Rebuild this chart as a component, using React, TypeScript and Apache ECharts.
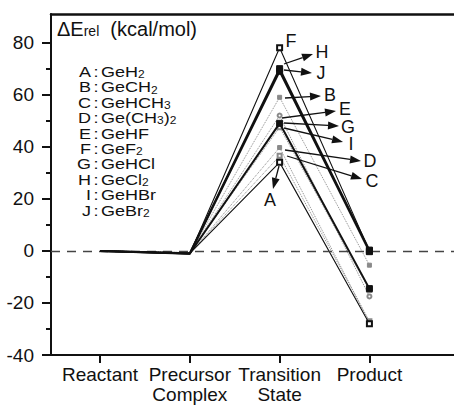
import React, { useEffect, useRef } from "react";
import * as echarts from "echarts";

const categories = ["Reactant", "Precursor\nComplex", "Transition\nState", "Product"];
const stageX = [0, 1, 2, 3];
const yTicks = [-40, -20, 0, 20, 40, 60, 80];
const yMinorTicks = [-30, -10, 10, 30, 50, 70];

const letters = ["A", "B", "C", "D", "E", "F", "G", "H", "I", "J"];
const formulas: [string, string][][] = [
  [["GeH", ""], ["2", "s"]],
  [["GeCH", ""], ["2", "s"]],
  [["GeHCH", ""], ["3", "s"]],
  [["Ge(CH", ""], ["3", "s"], [")", ""], ["2", "s"]],
  [["GeHF", ""]],
  [["GeF", ""], ["2", "s"]],
  [["GeHCl", ""]],
  [["GeCl", ""], ["2", "s"]],
  [["GeHBr", ""]],
  [["GeBr", ""], ["2", "s"]],
] as any;

const seriesA = [0, -1.0, 34, -28];
const seriesB = [0, -0.8, 59, -5.5];
const seriesC = [0, -0.9, 36.5, -27];
const seriesD = [0, -1.1, 39.7, -27.5];
const seriesE = [0, -0.7, 52, -17.5];
const seriesF = [0, -1.2, 78, 0];
const seriesG = [0, -1.0, 49, -14.5];
const seriesH = [0, -0.9, 70, 0.3];
const seriesI = [0, -0.8, 47.5, -15];
const seriesJ = [0, -1.1, 69, -0.3];

const FONT = "Liberation Sans, Arial, Helvetica, sans-serif";
const BLACK = "#111";
const GRAY = "#8a8a8a";

type Kind = "thick" | "thin" | "dotted";
const seriesDefs: { name: string; data: number[]; kind: Kind; symbol: string }[] = [
  { name: "A", data: seriesA, kind: "thin", symbol: "emptyRect" },
  { name: "B", data: seriesB, kind: "dotted", symbol: "star" },
  { name: "C", data: seriesC, kind: "dotted", symbol: "emptyRect" },
  { name: "D", data: seriesD, kind: "dotted", symbol: "star" },
  { name: "E", data: seriesE, kind: "dotted", symbol: "emptyCircle" },
  { name: "F", data: seriesF, kind: "thin", symbol: "emptyRect" },
  { name: "G", data: seriesG, kind: "thick", symbol: "rect" },
  { name: "H", data: seriesH, kind: "thick", symbol: "rect" },
  { name: "I", data: seriesI, kind: "dotted", symbol: "emptyRect" },
  { name: "J", data: seriesJ, kind: "thick", symbol: "rect" },
];

function arrow(x1: number, y1: number, x2: number, y2: number) {
  const dx = x2 - x1;
  const dy = y2 - y1;
  const len = Math.sqrt(dx * dx + dy * dy);
  const ux = dx / len;
  const uy = dy / len;
  const hl = 11;
  const hw = 4;
  const bx = x2 - ux * hl;
  const by = y2 - uy * hl;
  return [
    {
      type: "line",
      shape: { x1, y1, x2: bx, y2: by },
      style: { stroke: BLACK, lineWidth: 1.3 },
      z: 100,
    },
    {
      type: "polygon",
      shape: {
        points: [
          [x2, y2],
          [bx - uy * hw, by + ux * hw],
          [bx + uy * hw, by - ux * hw],
        ],
      },
      style: { fill: BLACK },
      z: 100,
    },
  ];
}

export default function App() {
  const ref = useRef<HTMLDivElement>(null);
  useEffect(() => {
    if (!ref.current) return;
    const chart = echarts.init(ref.current, null, { renderer: "svg" });

    const series: any[] = seriesDefs.map((s) => {
      const color = s.kind === "dotted" ? GRAY : BLACK;
      return {
        type: "line",
        name: s.name,
        data: s.data.map((v, i) =>
          i < 2 ? { value: [stageX[i], v], symbol: "none" } : { value: [stageX[i], v] }
        ),
        symbol: s.symbol,
        symbolSize: s.kind === "thick" ? 6 : s.kind === "thin" ? 5 : 4,
        showSymbol: true,
        lineStyle: {
          color,
          width: s.kind === "thick" ? 2 : s.kind === "thin" ? 1.1 : 1,
          type: s.kind === "dotted" ? "dotted" : "solid",
        },
        itemStyle: { color, borderColor: color, borderWidth: 1 },
        z: s.kind === "thick" ? 5 : s.kind === "thin" ? 4 : 3,
      };
    });
    series.push({
      type: "line",
      data: [],
      markLine: {
        silent: true,
        symbol: "none",
        label: { show: false },
        lineStyle: { color: "#444", type: [9, 7], width: 1.4 },
        data: [{ yAxis: 0 }],
      },
    });

    const legendTexts: any[] = [];
    const startY = 72;
    const step = 15.4;
    const SX = 1.2;
    letters.forEach((l, i) => {
      const y = startY + i * step;
      legendTexts.push({
        type: "text",
        x: 91,
        y,
        scaleX: SX,
        style: {
          text: l,
          font: `15px ${FONT}`,
          fill: BLACK,
          align: "right",
          verticalAlign: "middle",
        },
      });
      legendTexts.push({
        type: "text",
        x: 96,
        y,
        scaleX: SX,
        style: {
          text: ":",
          font: `15px ${FONT}`,
          fill: BLACK,
          align: "center",
          verticalAlign: "middle",
        },
      });
      const parts = formulas[i] as any as [string, string][];
      const txt = parts.map(([t, k]) => (k === "s" ? `{s|${t}}` : `{n|${t}}`)).join("");
      legendTexts.push({
        type: "text",
        x: 101,
        y,
        scaleX: SX,
        style: {
          text: txt,
          font: `15px ${FONT}`,
          fill: BLACK,
          align: "left",
          verticalAlign: "middle",
          rich: {
            n: { fontSize: 15, fontFamily: FONT, color: BLACK },
            s: { fontSize: 10, fontFamily: FONT, color: BLACK, padding: [5, 0, 0, 0] },
          },
        },
      });
    });

    const labelPos: [string, number, number][] = [
      ["F", 291, 41],
      ["H", 322, 52],
      ["J", 321, 73],
      ["B", 330, 95],
      ["E", 345, 109],
      ["G", 348, 127],
      ["I", 351, 144],
      ["D", 370, 161],
      ["C", 372, 181],
      ["A", 270, 200],
    ];
    const labelGraphics = labelPos.map(([t, x, y]) => ({
      type: "text",
      x,
      y,
      style: {
        text: t,
        font: `16px ${FONT}`,
        fill: BLACK,
        align: "center",
        verticalAlign: "middle",
      },
      scaleX: 1.12,
      scaleY: 1.12,
      z: 100,
    }));

    const arrows = [
      ...arrow(284, 64, 313, 54),
      ...arrow(284, 70, 312, 73),
      ...arrow(285, 98, 321, 96),
      ...arrow(282, 118, 336, 111),
      ...arrow(284, 123, 339, 126),
      ...arrow(284, 128, 343, 142),
      ...arrow(285, 150, 361, 161),
      ...arrow(287, 156, 362, 179),
      ...arrow(279, 166, 273, 189),
    ];

    chart.setOption({
      animation: false,
      backgroundColor: "#fff",
      grid: { left: 51, right: 0, top: 14, bottom: 56, containLabel: false },
      xAxis: [
        {
          type: "value",
          min: -0.546,
          max: 3.942,
          splitLine: { show: false },
          axisLine: { show: true, onZero: false, lineStyle: { color: BLACK, width: 2 } },
          axisTick: { show: true, customValues: stageX, length: 8, inside: false, lineStyle: { color: BLACK, width: 2 } },
          axisLabel: {
            show: true,
            customValues: stageX,
            formatter: (v: number) => categories[Math.round(v)] ?? "",
            color: BLACK,
            fontSize: 19,
            fontFamily: FONT,
            lineHeight: 20,
            margin: 9,
          },
        },
        {
          type: "value",
          position: "top",
          min: -0.546,
          max: 3.942,
          splitLine: { show: false },
          axisLine: { show: true, onZero: false, lineStyle: { color: BLACK, width: 2.5 } },
          axisTick: { show: false },
          axisLabel: { show: false },
        },
      ],
      yAxis: [
        {
          type: "value",
          min: -40,
          max: 91,
          position: "left",
          splitLine: { show: false },
          axisLine: { show: true, onZero: false, lineStyle: { color: BLACK, width: 2 } },
          axisTick: { show: true, customValues: yTicks, length: 9, lineStyle: { color: BLACK, width: 2 } },
          axisLabel: {
            show: true,
            customValues: yTicks,
            color: BLACK,
            fontSize: 19,
            fontFamily: FONT,
            margin: 17,
          },
        },
        {
          type: "value",
          min: -40,
          max: 91,
          position: "left",
          splitLine: { show: false },
          axisLine: { show: false, onZero: false },
          axisTick: { show: true, customValues: yMinorTicks, length: 5, lineStyle: { color: BLACK, width: 2 } },
          axisLabel: { show: false },
        },
      ],
      graphic: [
        {
          type: "text",
          x: 57,
          y: 29,
          style: {
            text: "{a|ΔE}{r|rel}{a|  (kcal/mol)}",
            font: `20px ${FONT}`,
            fill: BLACK,
            verticalAlign: "middle",
            rich: {
              a: { fontSize: 20, fontFamily: FONT, color: BLACK },
              r: { fontSize: 14, fontFamily: FONT, color: BLACK, padding: [3, 0, 0, 0] },
            },
          },
          z: 100,
        },
        ...legendTexts,
        ...labelGraphics,
        ...arrows,
      ],
      series,
    });
    return () => chart.dispose();
  }, []);
  return (
    <div
      ref={ref}
      style={{ position: "fixed", left: 0, top: 0, width: 454, height: 411, background: "#fff" }}
    />
  );
}
